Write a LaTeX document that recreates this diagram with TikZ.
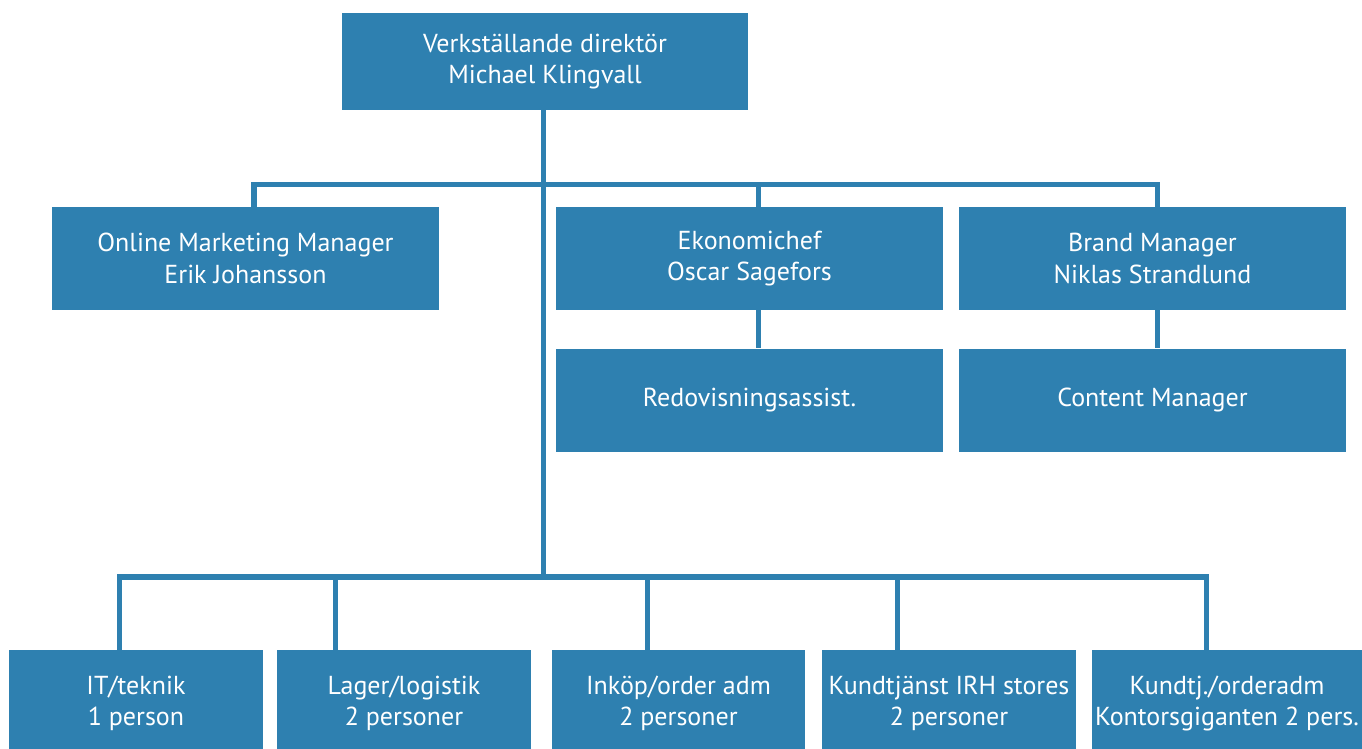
\documentclass[tikz,border=0pt]{standalone}
\usepackage{fontspec}
\setmainfont{PT Sans}
\usetikzlibrary{positioning,calc}
\definecolor{orgblue}{HTML}{2E80B0}
\tikzset{
    every node/.style={font=\fontsize{14.8}{17.9}\selectfont},
    unit/.style={fill=orgblue, text=white, align=center, inner sep=0pt},
    wide/.style={unit, minimum width=7.74cm, minimum height=2.06cm},
    narrow/.style={unit, minimum width=5.08cm, minimum height=2.14cm},
    link/.style={draw=orgblue, line width=2.85pt, line join=miter}
}
\begin{document}
\begin{tikzpicture}[x=0.02cm, y=-0.02cm]
    \useasboundingbox (0,0) rectangle (1362,749);

    % Top level
    \node[unit, minimum width=8.12cm, minimum height=1.94cm] (ceo) at (545,61.5)
        {Verkställande direktör\\Michael Klingvall};

    % Managers
    \node[wide] (online) at (245.5,258.5) {Online Marketing Manager\\Erik Johansson};
    \node[wide] (eko)    at (749.5,258.5) {Ekonomichef\\Oscar Sagefors};
    \node[wide] (brand)  at (1152.5,258.5) {Brand Manager\\Niklas Strandlund};
    \node[wide, below=0.76cm of eko]   (redov)   {Redovisningsassist.};
    \node[wide, below=0.76cm of brand] (content) {Content Manager};

    % Staff row (runs past the lower edge)
    \node[narrow] (it)    at (136,703.5) {IT/teknik\\1 person};
    \node[narrow] (lager) at (404,703.5) {Lager/logistik\\2 personer};
    \node[narrow] (inkop) at (678.5,703.5) {Inköp/order adm\\2 personer};
    \node[narrow] (kund)  at (949,703.5) {Kundtjänst IRH stores\\2 personer};
    \node[narrow, minimum width=5.4cm] (kontor) at (1227,703.5)
        {Kundtj./orderadm\\Kontorsgiganten 2 pers.};

    % Bus points
    \coordinate (busA)   at (543,185);
    \coordinate (busB)   at (543,577);
    \coordinate (dOnline) at (254,185);
    \coordinate (dEko)   at (758,185);
    \coordinate (dBrand) at (1157,185);
    \coordinate (dIT)    at (119.5,577);
    \coordinate (dLager) at (335.5,577);
    \coordinate (dInkop) at (647,577);
    \coordinate (dKund)  at (897.5,577);
    \coordinate (dKontor) at (1206,577);

    % Connections
    \draw[link] (ceo.south -| busA) -- (busB);
    \draw[link] (dOnline |- online.north) -- (dOnline) -- (dBrand) -- (dBrand |- brand.north);
    \draw[link] (dEko) -- (dEko |- eko.north);
    \draw[link] (eko.south -| dEko) -- (redov.north -| dEko);
    \draw[link] (brand.south -| dBrand) -- (content.north -| dBrand);
    \draw[link] (dIT |- it.north) -- (dIT) -- (dKontor) -- (dKontor |- kontor.north);
    \foreach \d/\n in {dLager/lager, dInkop/inkop, dKund/kund}
        \draw[link] (\d) -- (\d |- \n.north);
\end{tikzpicture}
\end{document}
